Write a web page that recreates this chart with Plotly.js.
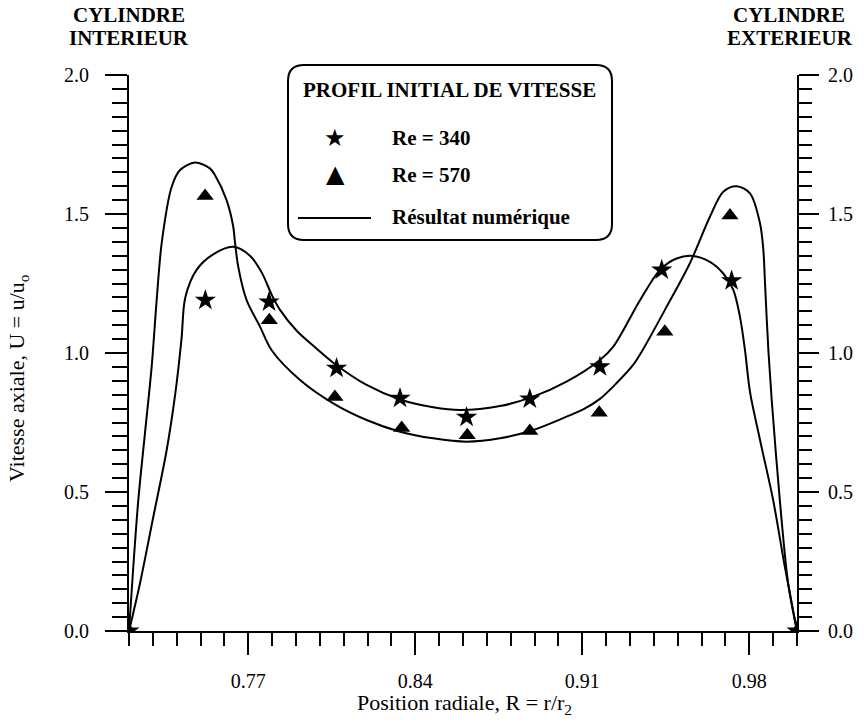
<!DOCTYPE html>
<html>
<head>
<meta charset="utf-8">
<script src="https://cdn.plot.ly/plotly-3.0.1.min.js"></script>
<style>html,body{margin:0;padding:0;background:#fff;}#chart{width:864px;height:724px;}</style>
</head>
<body>
<div id="chart"></div>
<script>
// ---- Data ----
const xTicks = [0.77, 0.84, 0.91, 0.98];
const yTicks = [0.0, 0.5, 1.0, 1.5, 2.0];

// Experimental points, Re = 340 (stars)
const xRe340 = [0.72, 0.752, 0.7787, 0.807, 0.8336, 0.8615, 0.888, 0.9174, 0.9433, 0.9726, 1.0];
const uRe340 = [0.0, 1.19, 1.184, 0.945, 0.837, 0.769, 0.835, 0.951, 1.299, 1.26, 0.0];

// Experimental points, Re = 570 (triangles)
const xRe570 = [0.72, 0.7519, 0.7788, 0.8063, 0.8343, 0.8618, 0.888, 0.9171, 0.9446, 0.9719, 1.0];
const uRe570 = [0.0, 1.565, 1.118, 0.842, 0.730, 0.704, 0.719, 0.785, 1.076, 1.495, 0.0];

// Numerical result, Re = 340 (lower peaks)
const xNum340 = [0.72, 0.7246, 0.7302, 0.7358, 0.7395, 0.742, 0.7436, 0.7484, 0.7553, 0.7637,
  0.7707, 0.7756, 0.7798, 0.7833, 0.7903, 0.7987, 0.8056, 0.8196, 0.8336, 0.8475, 0.8587, 0.8755, 0.8894,
  0.9034, 0.9174, 0.923, 0.9342, 0.9426, 0.9495, 0.9565, 0.9635, 0.9691, 0.9733, 0.9761, 0.9782,
  0.9803, 0.9845, 0.99, 0.9949, 1.0];
const uNum340 = [0.0, 0.171, 0.411, 0.651, 0.86, 1.05, 1.2, 1.3, 1.355, 1.382,
  1.35, 1.29, 1.21, 1.155, 1.08, 1.015, 0.965, 0.885, 0.833, 0.805, 0.795, 0.809, 0.843,
  0.897, 0.975, 1.023, 1.19, 1.299, 1.34, 1.349, 1.328, 1.286, 1.227, 1.13, 1.01,
  0.86, 0.687, 0.471, 0.231, 0.0];

// Numerical result, Re = 570 (tall peaks)
const xNum570 = [0.72, 0.7218, 0.7239, 0.7267, 0.7295, 0.7316, 0.7337, 0.7379, 0.7414, 0.7477, 0.7539,
  0.756, 0.7609, 0.7637, 0.7644, 0.7658, 0.7693, 0.7749, 0.7798, 0.7917, 0.8056, 0.8196, 0.8336,
  0.8475, 0.8615, 0.8755, 0.8894, 0.9034, 0.9104, 0.9174, 0.9244, 0.9314, 0.9356, 0.9454, 0.9551, 0.9635, 0.9691,
  0.9747, 0.9803, 0.9845, 0.9859, 0.9866, 0.988, 0.9894, 0.9928, 0.9963, 1.0];
const uNum570 = [0.0, 0.231, 0.471, 0.712, 0.951, 1.19, 1.395, 1.598, 1.658, 1.685, 1.664,
  1.64, 1.55, 1.454, 1.40, 1.31, 1.19, 1.095, 1.01, 0.903, 0.819, 0.759, 0.717,
  0.693, 0.681, 0.693, 0.723, 0.771, 0.797, 0.835, 0.892, 0.958, 1.015, 1.167, 1.323, 1.49, 1.58,
  1.60, 1.574, 1.466, 1.37, 1.25, 1.01, 0.831, 0.471, 0.171, 0.0];

const legendTitle = 'PROFIL INITIAL DE VITESSE';
const legendLabels = ['Re = 340', 'Re = 570', 'Résultat numérique'];

// ---- Layout helpers ----
const W = 864, H = 724;
const M = {l: 129, r: 67, t: 75, b: 93};
const PW = W - M.l - M.r, PH = H - M.t - M.b;
const px = x => (x - M.l) / PW;
const py = y => (H - M.b - y) / PH;

const serif = 'Liberation Serif, Times New Roman, serif';
const black = '#000';

const lineStyle = () => ({color: black, width: 2, shape: 'spline', smoothing: 0.9});

const traces = [
  {x: xNum340, y: uNum340, mode: 'lines', line: lineStyle(), hoverinfo: 'skip', showlegend: false},
  {x: xNum570, y: uNum570, mode: 'lines', line: lineStyle(), hoverinfo: 'skip', showlegend: false, yaxis: 'y2'},
  {x: xRe340, y: uRe340, mode: 'markers', marker: {symbol: 'star', size: 16, color: black, line: {width: 0}}, showlegend: false},
  {x: xRe570, y: uRe570, mode: 'markers', marker: {symbol: 'triangle-up', size: 15, color: black, line: {width: 0}}, showlegend: false}
];

const axisCommon = () => ({
  showgrid: false, zeroline: false, showline: true, linecolor: black, linewidth: 2,
  ticks: 'outside', tickcolor: black, tickwidth: 2,
  tickfont: {family: serif, size: 20, color: black}
});

// Rounded legend box (paper coords)
const bx0 = px(288), bx1 = px(612), byT = py(65), byB = py(240);
const rx = 16 / PW, ry = 16 / PH;
const boxPath = `M ${bx0 + rx},${byT} L ${bx1 - rx},${byT} Q ${bx1},${byT} ${bx1},${byT - ry} ` +
  `L ${bx1},${byB + ry} Q ${bx1},${byB} ${bx1 - rx},${byB} L ${bx0 + rx},${byB} ` +
  `Q ${bx0},${byB} ${bx0},${byB + ry} L ${bx0},${byT - ry} Q ${bx0},${byT} ${bx0 + rx},${byT} Z`;

const boldFont = () => ({family: serif, size: 21, color: black});
const ann = (text, x, y, opts) => Object.assign({
  text, x: px(x), y: py(y), xref: 'paper', yref: 'paper', showarrow: false,
  xanchor: 'center', yanchor: 'middle', font: boldFont()
}, opts || {});

const layout = {
  width: W, height: H,
  margin: M,
  paper_bgcolor: '#fff', plot_bgcolor: '#fff',
  showlegend: false,
  xaxis: Object.assign(axisCommon(), {
    range: [0.72, 1.0], tickmode: 'array', tickvals: xTicks, tickformat: '.2f',
    ticklen: 22, ticklabelstandoff: 9,
    minor: {dtick: 0.01, tick0: 0.72, ticks: 'outside', ticklen: 13, tickwidth: 2, tickcolor: black, showgrid: false}
  }),
  yaxis: Object.assign(axisCommon(), {
    range: [0, 2.0], tickmode: 'array', tickvals: yTicks, tickformat: '.1f',
    ticklen: 22, ticklabelstandoff: 12,
    minor: {dtick: 0.05, tick0: 0, ticks: 'outside', ticklen: 15, tickwidth: 2, tickcolor: black, showgrid: false}
  }),
  yaxis2: Object.assign(axisCommon(), {
    range: [0, 2.0], overlaying: 'y', side: 'right', anchor: 'x',
    tickmode: 'array', tickvals: yTicks, tickformat: '.1f',
    ticklen: 20, ticklabelstandoff: 5,
    minor: {dtick: 0.05, tick0: 0, ticks: 'outside', ticklen: 13, tickwidth: 2, tickcolor: black, showgrid: false}
  }),
  shapes: [
    {type: 'path', xref: 'paper', yref: 'paper', path: boxPath, line: {color: black, width: 2}, fillcolor: 'rgba(0,0,0,0)'},
    {type: 'line', xref: 'paper', yref: 'paper', x0: px(298), x1: px(371), y0: py(218), y1: py(218), line: {color: black, width: 2}}
  ],
  annotations: [
    ann('<b>CYLINDRE</b>', 129, 15),
    ann('<b>INTERIEUR</b>', 129, 38),
    ann('<b>CYLINDRE</b>', 789, 15),
    ann('<b>EXTERIEUR</b>', 790, 38),
    ann('<b>' + legendTitle + '</b>', 449, 90, {font: {family: serif, size: 21, color: black}}),
    ann('★', 335, 138, {font: {family: 'DejaVu Sans', size: 24, color: black}}),
    ann('▲', 335, 174, {font: {family: 'DejaVu Sans', size: 24, color: black}}),
    ann('<b>' + legendLabels[0] + '</b>', 390, 138, {xanchor: 'left'}),
    ann('<b>' + legendLabels[1] + '</b>', 390, 175, {xanchor: 'left'}),
    ann('<b>' + legendLabels[2] + '</b>', 390, 217, {xanchor: 'left'}),
    ann('Position radiale, R = r/r<sub>2</sub>', 464, 704, {font: {family: serif, size: 22, color: black}}),
    ann('Vitesse axiale, U = u/u<sub>o</sub>', 18, 378, {textangle: -90, font: {family: serif, size: 22, color: black}})
  ]
};

Plotly.newPlot('chart', traces, layout, {staticPlot: true, displayModeBar: false});
</script>
</body>
</html>
